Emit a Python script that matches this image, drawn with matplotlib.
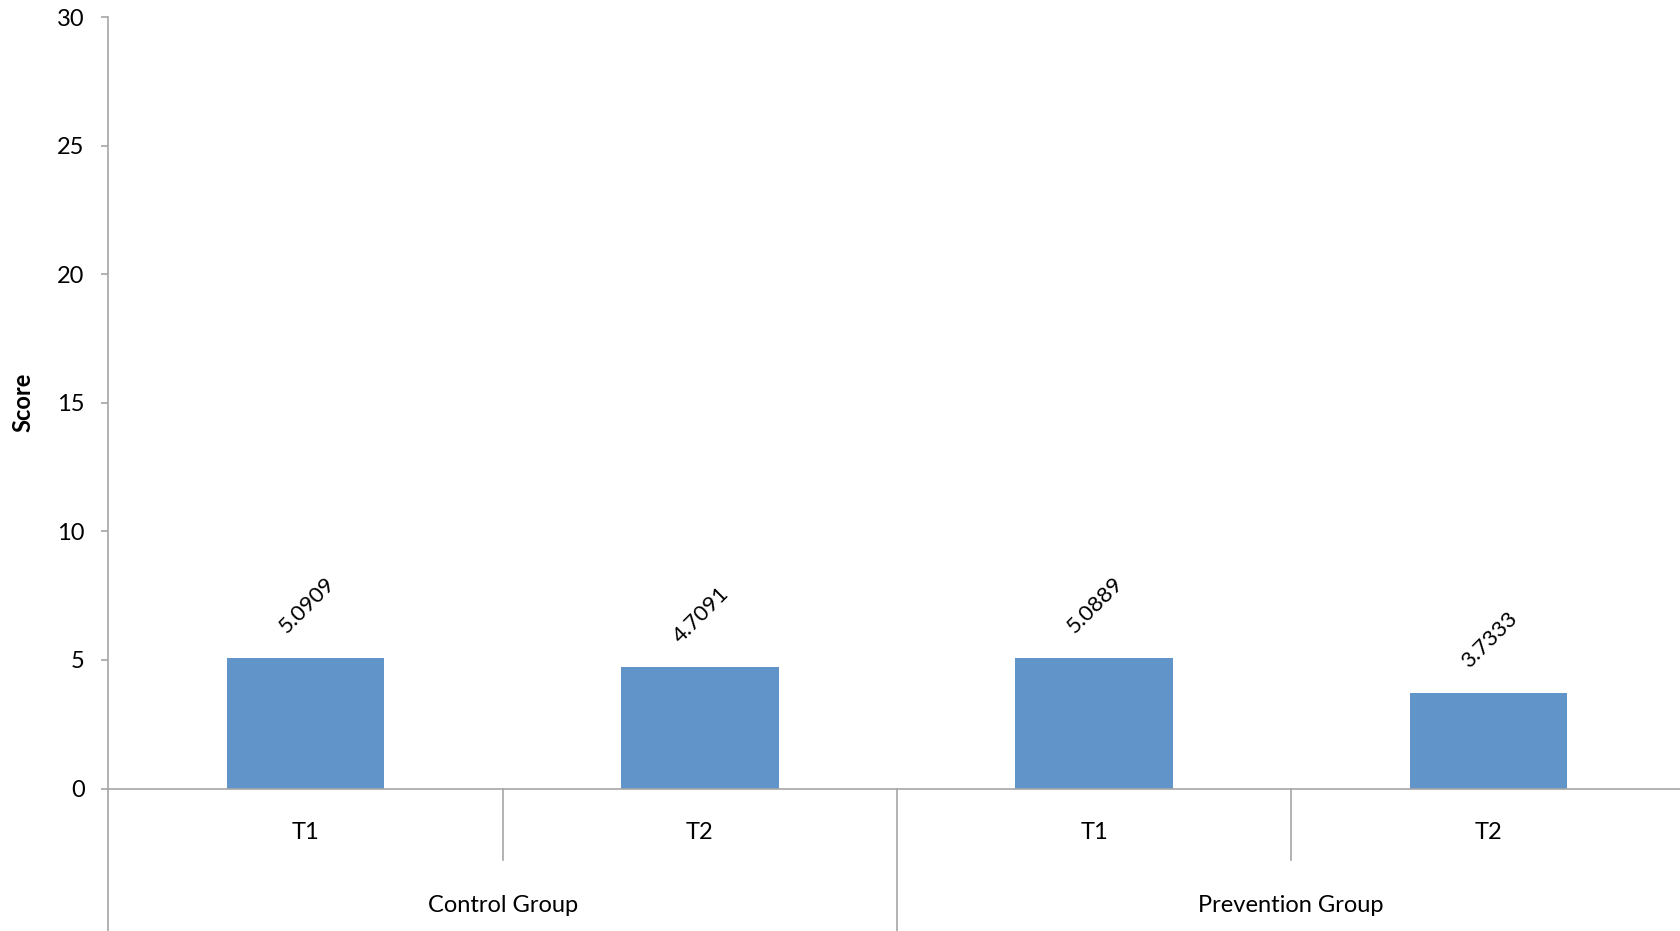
import numpy as np
import matplotlib
matplotlib.use("Agg")
import matplotlib.pyplot as plt
import matplotlib.transforms as mtransforms

plt.rcParams['font.family'] = ['Lato', 'DejaVu Sans']

# mean scores per group and time point
groups = ["Control Group", "Prevention Group"]
times = ["T1", "T2"]
scores = [5.0909, 4.7091, 5.0889, 3.7333]
value_labels = ["5.0909", "4.7091", "5.0889", "3.7333"]

bar_color = '#6195C9'
line_color = '#A6A6A6'

fig = plt.figure(figsize=(16.8, 9.31), dpi=100)
ax = fig.add_axes([0.0645, 0.153, 0.9388, 0.8287])

x = np.arange(len(scores)) + 0.5
ax.bar(x, scores, width=0.4, color=bar_color, zorder=2)

for xi, val, lab in zip(x, scores, value_labels):
    ax.annotate(lab, (xi, val), xytext=(1, 15), textcoords='offset points',
                rotation=45, ha='center', va='bottom', fontsize=16)

ax.set_xlim(0, 4)
ax.set_ylim(0, 30)
ax.set_yticks([0, 5, 10, 15, 20, 25, 30])
ax.tick_params(axis='y', direction='out', length=5, width=1.2, color=line_color,
               labelsize=17, pad=12)
ax.set_xticks([])

for side in ['top', 'right']:
    ax.spines[side].set_visible(False)
ax.spines['left'].set_color(line_color)
ax.spines['bottom'].set_color(line_color)
ax.spines['left'].set_linewidth(1.2)
ax.spines['bottom'].set_linewidth(1.2)

ax.set_ylabel("Score", fontsize=17, fontweight='bold')
ax.yaxis.set_label_coords(-0.047, 0.5)

# two-level category axis below the plot
trans = mtransforms.blended_transform_factory(ax.transData, ax.transAxes)
ax.plot([0, 0], [0, -0.19], transform=trans, color=line_color, lw=1.2, clip_on=False)
ax.plot([2, 2], [0, -0.19], transform=trans, color=line_color, lw=1.2, clip_on=False)
for xd in [1, 3]:
    ax.plot([xd, xd], [0, -0.0926], transform=trans, color=line_color, lw=1.2, clip_on=False)

for i, xi in enumerate(x):
    ax.text(xi, -0.057, times[i % 2], transform=trans, ha='center', va='center', fontsize=17)
for j, g in enumerate(groups):
    ax.text(2 * j + 1, -0.151, g, transform=trans, ha='center', va='center', fontsize=17)

fig.savefig("out.png", dpi=100)
